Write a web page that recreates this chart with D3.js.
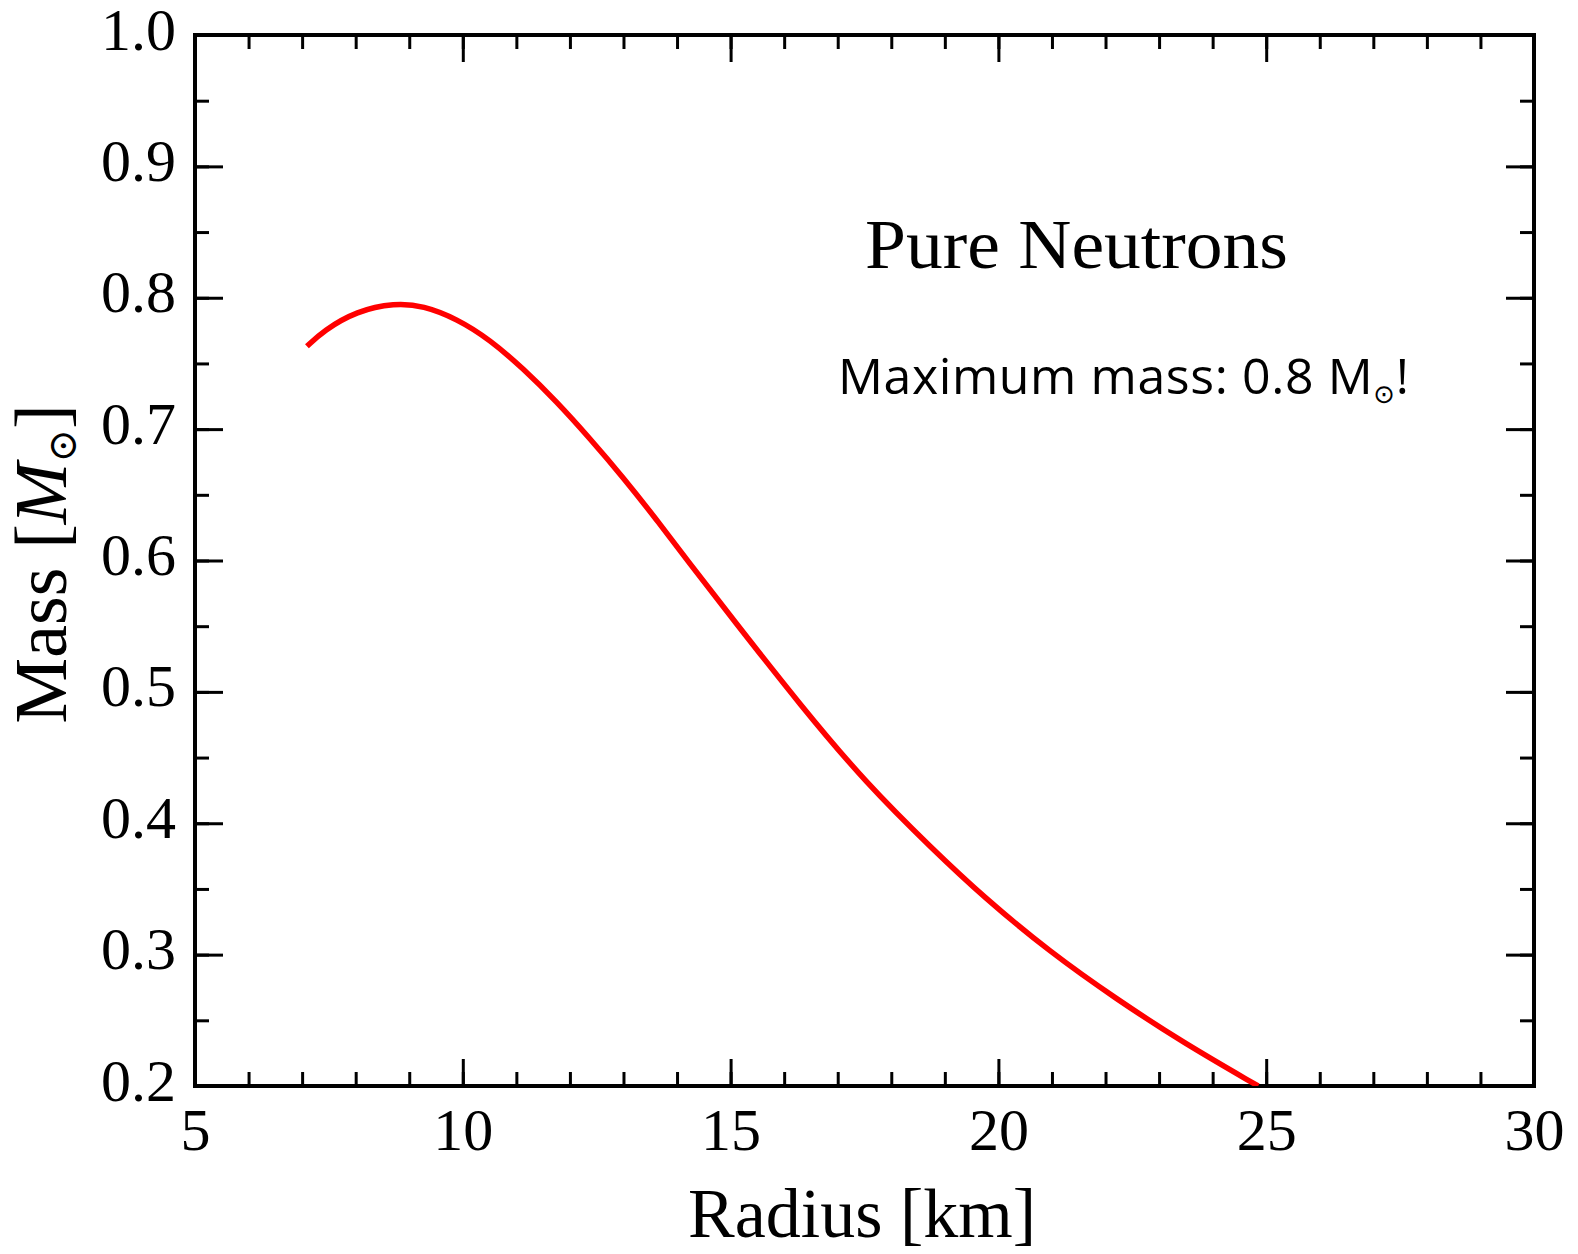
<!DOCTYPE html>
<html>
<head>
<meta charset="utf-8">
<script src="https://cdn.jsdelivr.net/npm/d3@7"></script>
<style>
  body { margin: 0; background: #fff; }
  .axis path { display: none; }
  .axis line { stroke: #000; stroke-width: 3px; }
  .axis text { font-family: "Liberation Serif", serif; font-size: 60px; fill: #000; }
</style>
</head>
<body>
<div id="chart-area"></div>
<script>
// mass-radius curve
var radius = [7.09, 7.40, 8.02, 8.73, 9.26, 9.89, 10.51, 11.13, 11.75, 12.37, 13.00, 13.62,
              14.21, 15.05, 16.30, 17.54, 18.78, 19.72, 20.96, 22.21, 23.45, 24.85];
var mass   = [0.763, 0.775, 0.790, 0.796, 0.794, 0.784, 0.768, 0.746, 0.721, 0.693, 0.663, 0.631,
              0.599, 0.555, 0.490, 0.430, 0.380, 0.344, 0.302, 0.266, 0.233, 0.200];
var xTicks = [5, 10, 15, 20, 25, 30];
var yTicks = [0.2, 0.3, 0.4, 0.5, 0.6, 0.7, 0.8, 0.9, 1.0];

var margin = {top: 35, right: 44, bottom: 168, left: 195};
var width = 1578 - margin.left - margin.right;
var height = 1254 - margin.top - margin.bottom;

var svg = d3.select("#chart-area").append("svg")
    .attr("width", 1578)
    .attr("height", 1254);

var g = svg.append("g")
    .attr("transform", "translate(" + margin.left + "," + margin.top + ")");

var x = d3.scaleLinear().domain([5, 30]).range([0, width]);
var y = d3.scaleLinear().domain([0.2, 1.0]).range([height, 0]);

var xMinor = d3.range(5, 30.01, 1);
var yMinor = d3.range(0.2, 1.001, 0.05);

// minor ticks on all four sides
g.append("g").attr("class", "axis").attr("transform", "translate(0," + height + ")")
    .call(d3.axisBottom(x).tickValues(xMinor).tickSize(-14).tickFormat(""));
g.append("g").attr("class", "axis")
    .call(d3.axisTop(x).tickValues(xMinor).tickSize(-14).tickFormat(""));
g.append("g").attr("class", "axis")
    .call(d3.axisLeft(y).tickValues(yMinor).tickSize(-14).tickFormat(""));
g.append("g").attr("class", "axis").attr("transform", "translate(" + width + ",0)")
    .call(d3.axisRight(y).tickValues(yMinor).tickSize(-14).tickFormat(""));

// major ticks
g.append("g").attr("class", "axis").attr("transform", "translate(0," + height + ")")
    .call(d3.axisBottom(x).tickValues(xTicks).tickSize(-27).tickPadding(21).tickFormat(d3.format("d")));
g.append("g").attr("class", "axis")
    .call(d3.axisTop(x).tickValues(xTicks).tickSize(-27).tickFormat(""));
g.append("g").attr("class", "axis")
    .call(d3.axisLeft(y).tickValues(yTicks).tickSize(-28).tickPadding(19).tickFormat(d3.format(".1f")))
    .selectAll("text").attr("dy", "14px");
g.append("g").attr("class", "axis").attr("transform", "translate(" + width + ",0)")
    .call(d3.axisRight(y).tickValues(yTicks).tickSize(-28).tickFormat(""));

// frame
g.append("rect")
    .attr("width", width)
    .attr("height", height)
    .attr("fill", "none")
    .attr("stroke", "#000")
    .attr("stroke-width", 4);

g.append("clipPath").attr("id", "clip")
  .append("rect").attr("width", width).attr("height", height);

var pts = radius.map(function(r, i) { return [r, mass[i]]; });
var line = d3.line()
    .x(function(d) { return x(d[0]); })
    .y(function(d) { return y(d[1]); })
    .curve(d3.curveBasis);

g.append("path")
    .datum(pts)
    .attr("clip-path", "url(#clip)")
    .attr("fill", "none")
    .attr("stroke", "#ff0000")
    .attr("stroke-width", 5.5)
    .attr("d", line);

// annotations
svg.append("text")
    .attr("x", 865).attr("y", 268)
    .attr("font-family", "Liberation Serif, serif")
    .attr("font-size", "70px")
    .attr("textLength", 423).attr("lengthAdjust", "spacingAndGlyphs")
    .text("Pure Neutrons");

var mm = svg.append("text")
    .attr("x", 838).attr("y", 394)
    .attr("font-family", "Open Sans, sans-serif")
    .attr("font-size", "50px")
    .attr("letter-spacing", "0.6px");
mm.append("tspan").text("Maximum mass: 0.8 M");
mm.append("tspan").attr("font-family", "DejaVu Sans").attr("font-size", "26px").attr("dy", "9").text("\u2299");
mm.append("tspan").attr("dy", "-9").text("!");

svg.append("text")
    .attr("x", 862).attr("y", 1237)
    .attr("text-anchor", "middle")
    .attr("font-family", "Liberation Serif, serif")
    .attr("font-size", "70px")
    .text("Radius [km]");

var yl = svg.append("text")
    .attr("transform", "translate(66," + 564 + ") rotate(-90)")
    .attr("text-anchor", "middle")
    .attr("font-family", "Liberation Serif, serif")
    .attr("font-size", "74px");
yl.append("tspan").text("Mass [");
yl.append("tspan").attr("font-style", "italic").text("M");
yl.append("tspan").attr("font-family", "DejaVu Serif").attr("font-size", "40px").attr("dy", "10").text("\u2299");
yl.append("tspan").attr("dy", "-10").text("]");
</script>
</body>
</html>
